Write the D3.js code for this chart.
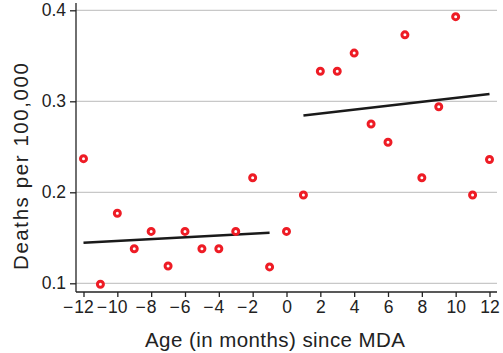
<!DOCTYPE html>
<html>
<head>
<meta charset="utf-8">
<script src="https://cdn.jsdelivr.net/npm/d3@7"></script>
<style>
  body { margin: 0; background: #fff; }
  svg text { font-family: "Liberation Sans", Arial, sans-serif; fill: #222; }
</style>
</head>
<body>
<div id="chart"></div>
<script>
// months since MDA and death rates per 100,000
var months = [-12, -11, -10, -9, -8, -7, -6, -5, -4, -3, -2, -1, 0, 1, 2, 3, 4, 5, 6, 7, 8, 9, 10, 11, 12];
var deaths = [0.237, 0.099, 0.177, 0.138, 0.157, 0.119, 0.157, 0.138, 0.138, 0.157, 0.216, 0.118, 0.157,
              0.197, 0.333, 0.333, 0.353, 0.275, 0.255, 0.373, 0.216, 0.294, 0.393, 0.197, 0.236];
// fitted lines before / after MDA
var fitBefore = [{ x: -12, y: 0.1445 }, { x: -1, y: 0.1555 }];
var fitAfter = [{ x: 1, y: 0.2845 }, { x: 12, y: 0.308 }];
var xTicks = [-12, -10, -8, -6, -4, -2, 0, 2, 4, 6, 8, 10, 12];
var yTicks = [0.1, 0.2, 0.3, 0.4];

var W = 503, H = 353;
var plot = { left: 76, right: 497, top: 3, bottom: 292 };

var svg = d3.select('#chart').append('svg').attr('width', W).attr('height', H);

var x = d3.scaleLinear().domain([-12, 12]).range([83.5, 489.5]);
var y = d3.scaleLinear().domain([0.1, 0.4]).range([283.3, 10.3]);

// gridlines
svg.append('g').selectAll('line').data(yTicks).enter().append('line')
  .attr('x1', plot.left).attr('x2', plot.right)
  .attr('y1', function(d) { return y(d); }).attr('y2', function(d) { return y(d); })
  .attr('stroke', '#c8c8c8').attr('stroke-width', 1.2);

// x axis: digits centred on the tick, minus sign hanging to the left
var xAxis = svg.append('g').attr('transform', 'translate(0,' + plot.bottom + ')')
  .call(d3.axisBottom(x).tickValues(xTicks).tickSize(5).tickPadding(4)
    .tickFormat(function(d) { return String(Math.abs(d)); }));
xAxis.select('.domain').attr('d', 'M' + plot.left + ',0H' + plot.right).attr('stroke', '#222').attr('stroke-width', 1.3);
xAxis.selectAll('.tick line').attr('stroke', '#222').attr('stroke-width', 1.3);
xAxis.selectAll('text').attr('font-size', '17.5px').style('fill', '#222');
xAxis.selectAll('.tick').each(function(d) {
  if (d >= 0) return;
  var t = d3.select(this).select('text');
  var w = t.node().getComputedTextLength();
  d3.select(this).append('text')
    .attr('x', -w / 2 - 1).attr('y', t.attr('y')).attr('dy', t.attr('dy'))
    .attr('text-anchor', 'end').attr('font-size', '17.5px').style('fill', '#222')
    .text('\u2212');
});

var yAxis = svg.append('g').attr('transform', 'translate(' + plot.left + ',0)')
  .call(d3.axisLeft(y).tickValues(yTicks).tickSize(6).tickPadding(4).tickFormat(d3.format('.1f')));
yAxis.select('.domain').attr('d', 'M0,' + plot.top + 'V' + plot.bottom).attr('stroke', '#222').attr('stroke-width', 1.3);
yAxis.selectAll('.tick line').attr('stroke', '#222').attr('stroke-width', 1.3);
yAxis.selectAll('text').attr('font-size', '17.5px').style('fill', '#222');

// fit lines
var line = d3.line().x(function(d) { return x(d.x); }).y(function(d) { return y(d.y); });
[fitBefore, fitAfter].forEach(function(seg) {
  svg.append('path').datum(seg).attr('d', line)
    .attr('fill', 'none').attr('stroke', '#1a1a1a').attr('stroke-width', 2.5);
});

// points
svg.append('g').selectAll('circle').data(months).enter().append('circle')
  .attr('cx', function(d) { return x(d); })
  .attr('cy', function(d, i) { return y(deaths[i]); })
  .attr('r', 3).attr('fill', '#fff')
  .attr('stroke', '#ee1c25').attr('stroke-width', 3);

// axis titles
svg.append('text').attr('x', 275).attr('y', 346.5).attr('text-anchor', 'middle')
  .attr('font-size', '20.5px').attr('textLength', 260).attr('lengthAdjust', 'spacing')
  .text('Age (in months) since MDA');
svg.append('text').attr('transform', 'translate(27.5,166.5) rotate(-90)').attr('text-anchor', 'middle')
  .attr('font-size', '20.5px').attr('textLength', 207).attr('lengthAdjust', 'spacing')
  .text('Deaths per 100,000');
</script>
</body>
</html>
